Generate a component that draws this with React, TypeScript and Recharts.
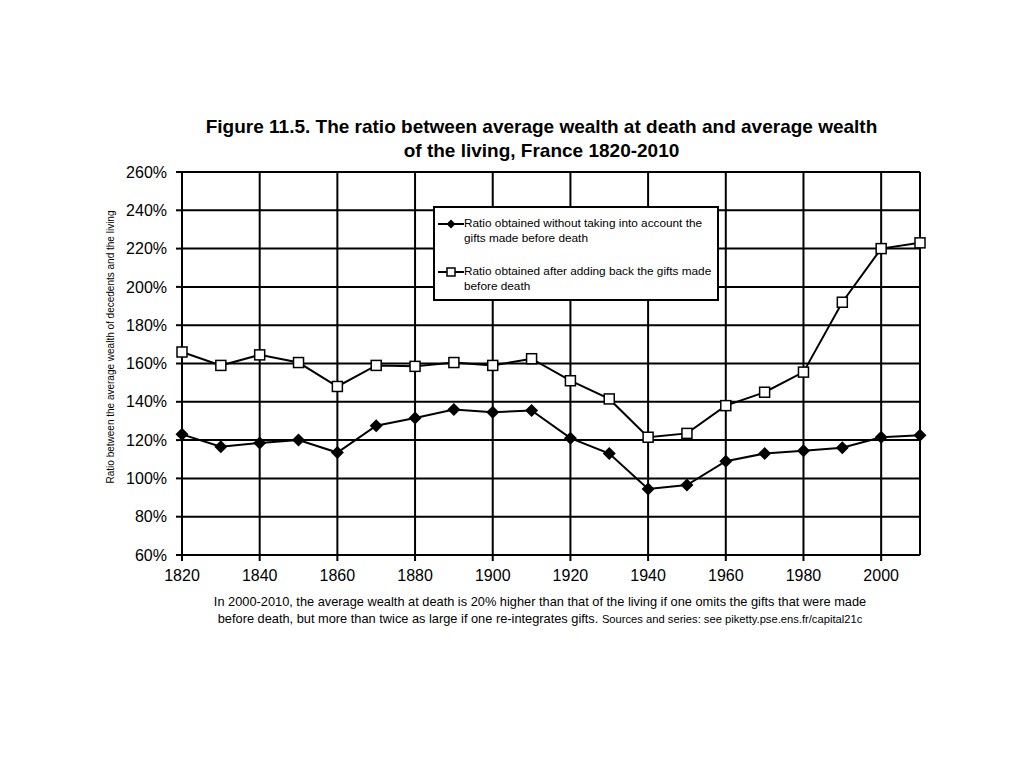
import { LineChart, Line, XAxis, YAxis, CartesianGrid, ReferenceLine } from 'recharts';

const years = [1820, 1830, 1840, 1850, 1860, 1870, 1880, 1890, 1900, 1910, 1920, 1930, 1940, 1950, 1960, 1970, 1980, 1990, 2000, 2010];
const withoutGifts = [123, 116.5, 118.5, 120, 113.5, 127.5, 131.5, 136, 134.5, 135.5, 121, 113, 94.5, 96.5, 109, 113, 114.5, 116, 121.5, 122.5];
const withGifts = [166, 159, 164.5, 160.5, 148, 159, 158.5, 160.5, 159, 162.5, 151, 141.5, 121.5, 123.5, 138, 145, 155.5, 192, 220, 223];
const xTicks = [1820, 1840, 1860, 1880, 1900, 1920, 1940, 1960, 1980, 2000];
const yTicks = [60, 80, 100, 120, 140, 160, 180, 200, 220, 240, 260];

// legend text, split the way the original wraps it
const seriesLabels = [
  ['Ratio obtained without taking into account the', 'gifts made before death'],
  ['Ratio obtained after adding back the gifts made', 'before death'],
];

const data = years.map((year, i) => ({ year, withoutGifts: withoutGifts[i], withGifts: withGifts[i] }));

const font = '"Liberation Sans", Arial, sans-serif';

const DiamondDot = (props: any) => {
  const { cx, cy } = props;
  if (cx == null || cy == null) return null;
  return <path d={`M${cx},${cy - 6.5}L${cx + 6.5},${cy}L${cx},${cy + 6.5}L${cx - 6.5},${cy}Z`} fill="#000" />;
};

const SquareDot = (props: any) => {
  const { cx, cy } = props;
  if (cx == null || cy == null) return null;
  return <rect x={cx - 5} y={cy - 5} width={10} height={10} fill="#fff" stroke="#000" strokeWidth={1.5} />;
};

// legend drawn as an overlay so it doesn't eat plot space
function LegendBox() {
  const row = (square: boolean, lines: string[], gap: number) => (
    <div style={{ display: 'flex', alignItems: 'flex-start', marginBottom: gap }}>
      <svg width={27} height={16} style={{ flexShrink: 0 }}>
        <line x1={1} y1={8} x2={27} y2={8} stroke="#000" strokeWidth={2} />
        {square ? (
          <rect x={10} y={4} width={8} height={8} fill="#fff" stroke="#000" strokeWidth={1.5} />
        ) : (
          <path d="M14,3.5L18.5,8L14,12.5L9.5,8Z" fill="#000" />
        )}
      </svg>
      <div style={{ fontSize: 11.8, lineHeight: '15px', color: '#000', whiteSpace: 'nowrap' }}>
        {lines[0]}
        <br />
        {lines[1]}
      </div>
    </div>
  );
  return (
    <div
      style={{
        position: 'absolute',
        left: 433,
        top: 206,
        width: 286,
        height: 95,
        border: '2px solid #000',
        background: '#fff',
        boxSizing: 'border-box',
        padding: '8px 2px 0 2px',
        fontFamily: font,
      }}
    >
      {row(false, seriesLabels[0], 18)}
      {row(true, seriesLabels[1], 0)}
    </div>
  );
}

export default function App() {
  return (
    <div style={{ position: 'absolute', left: 0, top: 0, width: 1024, height: 768, background: '#fff', fontFamily: font }}>
      <div
        style={{
          position: 'absolute',
          top: 115,
          left: 0,
          width: 1083,
          textAlign: 'center',
          fontSize: 19,
          fontWeight: 'bold',
          lineHeight: '24px',
          color: '#000',
        }}
      >
        Figure 11.5. The ratio between average wealth at death and average wealth
        <br />
        of the living, France 1820-2010
      </div>
      <LineChart
        width={1024}
        height={768}
        data={data}
        margin={{ top: 172, right: 104, bottom: 183, left: 122 }}
        style={{ fontFamily: font }}
      >
        <CartesianGrid stroke="#000" strokeWidth={2} strokeOpacity={1} />
        <XAxis
          dataKey="year"
          type="number"
          domain={[1820, 2010]}
          ticks={xTicks}
          interval={0}
          height={30}
          tickSize={6}
          tickMargin={9}
          stroke="#000"
          strokeWidth={2}
          tick={{ fill: '#000', fontSize: 16 }}
        />
        <YAxis
          type="number"
          domain={[60, 260]}
          ticks={yTicks}
          interval={0}
          width={60}
          tickSize={6}
          tickMargin={9}
          stroke="#000"
          strokeWidth={2}
          tickFormatter={(v: number) => `${v}%`}
          tick={{ fill: '#000', fontSize: 16 }}
        />
        <ReferenceLine x={2010} stroke="#000" strokeWidth={2} />
        <Line
          dataKey="withoutGifts"
          name={seriesLabels[0].join(' ')}
          stroke="#000"
          strokeWidth={2}
          dot={<DiamondDot />}
          isAnimationActive={false}
        />
        <Line
          dataKey="withGifts"
          name={seriesLabels[1].join(' ')}
          stroke="#000"
          strokeWidth={2}
          dot={<SquareDot />}
          isAnimationActive={false}
        />
      </LineChart>
      <LegendBox />
      <div
        style={{
          position: 'absolute',
          left: 111 - 150,
          top: 347 - 6,
          width: 300,
          textAlign: 'center',
          fontSize: 10,
          lineHeight: '12px',
          color: '#000',
          transform: 'rotate(-90deg)',
          transformOrigin: 'center',
          whiteSpace: 'nowrap',
        }}
      >
        Ratio between the average wealth of decedents and the living
      </div>
      <div
        style={{
          position: 'absolute',
          top: 593,
          left: 0,
          width: 1080,
          textAlign: 'center',
          fontSize: 12.8,
          lineHeight: '17px',
          color: '#000',
        }}
      >
        In 2000-2010, the average wealth at death is 20% higher than that of the living if one omits the gifts that were made
        <br />
        before death, but more than twice as large if one re-integrates gifts.{' '}
        <span style={{ fontSize: 11.2 }}>Sources and series: see piketty.pse.ens.fr/capital21c</span>
      </div>
    </div>
  );
}
